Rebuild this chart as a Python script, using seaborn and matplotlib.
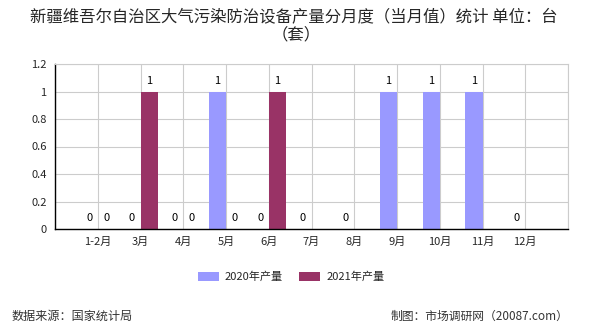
import numpy as np
import pandas as pd
import matplotlib
matplotlib.use("Agg")
import matplotlib.pyplot as plt
import seaborn as sns
from matplotlib.patches import Patch, Rectangle

months = ["1-2月", "3月", "4月", "5月", "6月", "7月", "8月", "9月", "10月", "11月", "12月"]
v2020 = [0, 0, 0, 1, 0, 0, 0, 1, 1, 1, 0]
v2021 = [0, 1, 0, 0, 1, np.nan, np.nan, np.nan, np.nan, np.nan, np.nan]
series = ["2020年产量", "2021年产量"]
colors = ["#9999FF", "#993366"]
yticks = [0, 0.2, 0.4, 0.6, 0.8, 1, 1.2]
ytick_labels = ["0", "0.2", "0.4", "0.6", "0.8", "1", "1.2"]

df = pd.DataFrame({
    "month": months * 2,
    "series": [series[0]] * len(months) + [series[1]] * len(months),
    "value": v2020 + v2021,
})

sns.set_style("white")
plt.rcParams["font.family"] = ["Noto Sans CJK SC", "DejaVu Sans"]

fig = plt.figure(figsize=(5.9, 3.3), dpi=100)
ax = fig.add_axes([55 / 590, 1 - 229 / 330, (568 - 55) / 590, (229 - 64) / 330])

sns.barplot(data=df, x="month", y="value", hue="series", order=months,
            hue_order=series, palette=colors, width=0.8, saturation=1,
            ax=ax, legend=False, errorbar=None, linewidth=0, edgecolor="none")

for p in ax.patches:
    if not isinstance(p, Rectangle):
        continue
    h = p.get_height()
    if h is None or np.isnan(h):
        continue
    ax.annotate(f"{h:g}", (p.get_x() + p.get_width() / 2, h),
                xytext=(0, 4), textcoords="offset points",
                ha="center", va="bottom", fontsize=8, color="#000000")

ax.set_xlim(-1, len(months))
ax.set_ylim(0, 1.2)
ax.set_yticks(yticks)
ax.set_yticklabels(ytick_labels, fontsize=8)
ax.set_xticks(np.arange(-1, len(months) + 1))
ax.set_xticklabels([""] + months + [""], fontsize=8)
ax.set_xlabel("")
ax.set_ylabel("")
ax.grid(True, color="#cccccc", linewidth=0.8)
ax.set_axisbelow(True)
for s in ["top", "right"]:
    ax.spines[s].set_color("#cccccc")
    ax.spines[s].set_linewidth(0.8)
for s in ["left", "bottom"]:
    ax.spines[s].set_color("#000000")
    ax.spines[s].set_linewidth(1)
ax.tick_params(axis="x", direction="out", length=4, width=0.8, color="#000000", pad=2)
ax.tick_params(axis="y", direction="out", length=4, width=0.8, color="#000000", pad=2)

fig.text(294 / 590, 1 - 17 / 330, "新疆维吾尔自治区大气污染防治设备产量分月度（当月值）统计 单位：台",
         ha="center", va="center", fontsize=11.8, fontweight="medium")
fig.text(296 / 590, 1 - 35 / 330, "（套）", ha="center", va="center", fontsize=11.8,
         fontweight="medium")

handles = [Patch(facecolor=c, edgecolor="none") for c in colors]
fig.legend(handles, series, loc="center", bbox_to_anchor=(291 / 590, 1 - 277 / 330),
           ncol=2, frameon=False, fontsize=8, handlelength=1.9, handleheight=0.8,
           handletextpad=0.55, columnspacing=1.45)

fig.text(12 / 590, 1 - 316 / 330, "数据来源：国家统计局", ha="left", va="center", fontsize=8.7, color="#333333")
fig.text(568 / 590, 1 - 316 / 330, "制图：市场调研网（20087.com）", ha="right", va="center", fontsize=8.5, color="#333333")

fig.savefig("out.png", dpi=100)
